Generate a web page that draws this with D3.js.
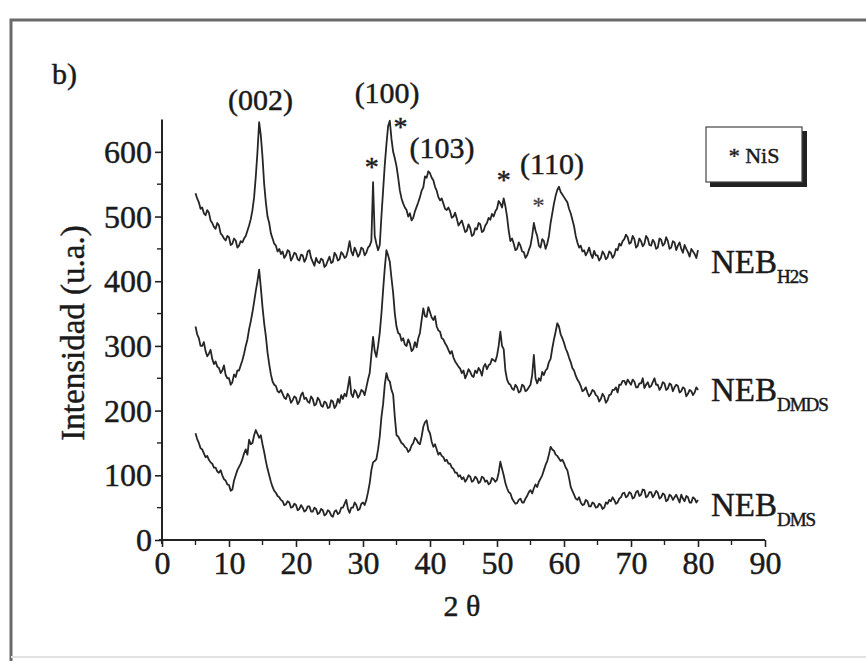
<!DOCTYPE html>
<html>
<head>
<meta charset="utf-8">
<script src="https://cdn.jsdelivr.net/npm/d3@7"></script>
<style>
  html, body { margin: 0; padding: 0; background: #fff; }
  svg { display: block; }
  text { font-family: "Liberation Serif", "DejaVu Serif", serif; fill: #1a1a1a; stroke: #1a1a1a; stroke-width: 0.45px; }
</style>
</head>
<body>
<svg id="chart" width="866" height="661"></svg>
<script>
// ---- data ----
const thetaStart = 5;      // first 2θ sample
const thetaStep = 0.25;    // sampling interval of the read-off values

const seriesSubs = ["H2S", "DMDS", "DMS"];

const valuesH2S = [
  536, 528, 522, 512, 514, 505, 502, 510, 506, 494, 490, 484, 481, 490, 486, 474, 471, 466, 463, 470,
  468, 456, 458, 466, 463, 452, 455, 462, 460, 466, 470, 478, 486, 496, 510, 530, 562, 600, 646, 625,
  592, 550, 522, 500, 490, 474, 466, 458, 455, 446, 450, 442, 446, 436, 440, 448, 446, 432, 437, 444,
  442, 434, 432, 441, 440, 430, 435, 446, 448, 436, 430, 424, 436, 430, 428, 435, 433, 422, 425, 432,
  438, 428, 430, 444, 440, 432, 434, 445, 442, 436, 438, 448, 462, 446, 440, 452, 446, 438, 442, 452,
  450, 440, 444, 452, 455, 462, 553, 470, 458, 448, 456, 500, 540, 580, 612, 640, 648, 620, 600, 590,
  578, 560, 540, 528, 520, 514, 510, 500, 505, 494, 498, 508, 515, 522, 530, 540, 545, 562, 560, 570,
  567, 560, 556, 546, 540, 530, 525, 528, 520, 512, 510, 514, 508, 498, 500, 506, 497, 486, 490, 494,
  485, 476, 478, 488, 482, 470, 472, 482, 480, 490, 488, 476, 478, 486, 490, 498, 495, 504, 500, 508,
  512, 524, 520, 514, 528, 516, 500, 478, 462, 466, 458, 448, 450, 460, 455, 446, 445, 436, 440, 448,
  455, 470, 490, 478, 470, 455, 452, 465, 462, 450, 458, 470, 490, 505, 520, 532, 541, 546, 538, 534,
  530, 526, 522, 512, 505, 495, 485, 470, 460, 452, 455, 446, 448, 440, 445, 452, 442, 436, 447, 440,
  440, 432, 436, 446, 442, 434, 437, 446, 444, 436, 440, 450, 448, 458, 455, 462, 465, 472, 468, 458,
  460, 470, 465, 452, 455, 466, 462, 454, 458, 470, 466, 456, 455, 464, 460, 450, 452, 466, 464, 455,
  458, 468, 462, 450, 452, 462, 460, 448, 455, 460, 450, 444, 456, 450, 445, 438, 450, 446, 442, 436,
  448
];
const valuesDMDS = [
  330, 318, 312, 300, 300, 306, 292, 284, 288, 294, 280, 272, 276, 268, 266, 258, 262, 270, 255, 250,
  250, 240, 244, 256, 252, 262, 262, 270, 278, 288, 300, 310, 326, 338, 352, 368, 385, 400, 418, 390,
  360, 335, 315, 290, 272, 256, 245, 240, 238, 230, 228, 232, 226, 220, 218, 226, 222, 212, 216, 222,
  220, 210, 214, 224, 228, 218, 220, 214, 212, 222, 218, 208, 210, 220, 216, 208, 206, 214, 212, 204,
  205, 216, 214, 204, 208, 218, 212, 224, 218, 226, 222, 236, 252, 226, 221, 232, 228, 220, 224, 232,
  230, 224, 236, 248, 258, 286, 314, 292, 283, 300, 320, 350, 386, 420, 448, 440, 430, 405, 382, 350,
  330, 320, 318, 308, 312, 302, 300, 310, 304, 292, 295, 306, 298, 312, 320, 340, 358, 346, 345, 360,
  352, 344, 340, 346, 330, 324, 322, 312, 310, 304, 300, 294, 288, 292, 282, 276, 272, 268, 265, 258,
  262, 250, 256, 264, 260, 254, 252, 262, 258, 266, 262, 254, 268, 272, 264, 270, 272, 280, 278, 276,
  285, 300, 322, 300, 295, 262, 248, 242, 240, 234, 232, 240, 236, 228, 230, 240, 238, 230, 232, 236,
  240, 255, 286, 250, 242, 250, 246, 260, 255, 262, 265, 275, 280, 296, 310, 322, 335, 330, 318, 312,
  305, 296, 290, 282, 275, 266, 262, 254, 248, 244, 238, 230, 232, 236, 228, 222, 226, 232, 230, 224,
  222, 214, 218, 226, 222, 212, 216, 224, 225, 232, 232, 236, 228, 240, 240, 246, 246, 240, 248, 244,
  240, 248, 245, 236, 236, 242, 242, 250, 235, 240, 244, 236, 238, 244, 250, 240, 240, 232, 236, 244,
  242, 232, 234, 242, 240, 230, 236, 240, 238, 228, 230, 236, 234, 222, 226, 232, 230, 224, 228, 236,
  232
];
const valuesDMS = [
  165, 156, 150, 142, 140, 134, 128, 130, 124, 120, 118, 112, 112, 106, 104, 108, 100, 94, 92, 86,
  85, 76, 78, 92, 100, 108, 113, 118, 125, 134, 140, 132, 155, 148, 150, 162, 170, 164, 158, 162,
  148, 136, 122, 110, 100, 90, 82, 76, 73, 68, 66, 62, 60, 54, 55, 60, 58, 50, 51, 56,
  54, 46, 48, 54, 50, 44, 46, 52, 52, 44, 44, 50, 48, 40, 42, 48, 46, 38, 40, 46,
  44, 38, 36, 44, 46, 40, 42, 50, 50, 56, 62, 48, 42, 50, 50, 58, 54, 46, 48, 56,
  58, 54, 62, 74, 88, 108, 120, 122, 125, 140, 160, 190, 210, 240, 258, 248, 245, 232, 225, 190,
  162, 160, 155, 150, 148, 144, 142, 136, 139, 146, 150, 158, 155, 150, 148, 160, 175, 182, 185, 170,
  165, 152, 144, 148, 140, 132, 135, 130, 128, 122, 124, 118, 118, 112, 110, 104, 104, 98, 100, 94,
  97, 90, 94, 100, 98, 90, 92, 98, 95, 88, 90, 98, 96, 90, 92, 86, 88, 96, 94, 90,
  93, 104, 121, 110, 100, 88, 80, 74, 72, 64, 60, 56, 57, 62, 64, 58, 58, 64, 68, 74,
  77, 72, 80, 86, 82, 90, 95, 100, 108, 116, 122, 132, 144, 140, 138, 132, 130, 126, 122, 124,
  119, 112, 108, 96, 82, 76, 70, 64, 62, 66, 58, 54, 55, 62, 60, 52, 52, 58, 56, 50,
  51, 56, 54, 48, 50, 58, 56, 62, 60, 66, 62, 56, 58, 64, 66, 72, 73, 66, 68, 74,
  72, 64, 66, 74, 76, 68, 70, 78, 77, 66, 68, 74, 74, 66, 70, 76, 73, 64, 66, 72,
  70, 60, 62, 70, 68, 62, 66, 70, 64, 58, 70, 64, 60, 68, 66, 58, 58, 66, 64, 58,
  62
];

const xTicks = [0, 10, 20, 30, 40, 50, 60, 70, 80, 90];
const yTicks = [0, 100, 200, 300, 400, 500, 600];

// peak annotations
const peakLabels = ["(002)", "(100)", "(103)", "(110)"];
const peakTheta = [14.7, 33.6, 41.8, 58.2];
const peakInt = [665, 675, 590, 565];
// NiS markers
const nisTheta = [31.3, 35.6, 51.0, 56.2];
const nisInt = [563, 625, 542, 505];

// ---- drawing ----
const svg = d3.select("#chart");
const x = d3.scaleLinear().domain([0, 90]).range([162, 765]);
const y = d3.scaleLinear().domain([0, 650]).range([540, 119.5]);

// outer frame
svg.append("path")
  .attr("d", "M11,661 V20 H866")
  .attr("fill", "none").attr("stroke", "#6a6a6a").attr("stroke-width", 3);
svg.append("line").attr("x1", 11).attr("x2", 866).attr("y1", 657).attr("y2", 657)
  .attr("stroke", "#e2e2e2").attr("stroke-width", 2);

// axes
const axisColor = "#222";
svg.append("line").attr("x1", x(0)).attr("x2", x(0)).attr("y1", y(650)).attr("y2", y(0) + 4)
  .attr("stroke", axisColor).attr("stroke-width", 2);
svg.append("line").attr("x1", x(0) - 3).attr("x2", x(90)).attr("y1", y(0)).attr("y2", y(0))
  .attr("stroke", axisColor).attr("stroke-width", 2);

const yAxis = d3.axisLeft(y).tickValues(yTicks).tickSize(7).tickPadding(3).tickFormat(d3.format("d"));
const gy = svg.append("g").attr("transform", `translate(${x(0)},0)`).call(yAxis);
gy.select(".domain").remove();
gy.selectAll(".tick line").attr("stroke", axisColor).attr("stroke-width", 1.6);
gy.selectAll(".tick text").style("font-size", "32px").attr("dy", "0.33em").attr("fill", "#1a1a1a");

const yMinor = d3.range(50, 650, 100);
svg.append("g").selectAll("line").data(yMinor).join("line")
  .attr("x1", x(0) - 5).attr("x2", x(0)).attr("y1", d => y(d)).attr("y2", d => y(d))
  .attr("stroke", axisColor).attr("stroke-width", 1.4);

const xAxis = d3.axisBottom(x).tickValues(xTicks).tickSize(7).tickPadding(4).tickFormat(d3.format("d"));
const gx = svg.append("g").attr("transform", `translate(0,${y(0)})`).call(xAxis);
gx.select(".domain").remove();
gx.selectAll(".tick line").attr("stroke", axisColor).attr("stroke-width", 1.6);
gx.selectAll(".tick text").style("font-size", "32px").attr("fill", "#1a1a1a");

const xMinor = d3.range(5, 90, 10);
svg.append("g").selectAll("line").data(xMinor).join("line")
  .attr("x1", d => x(d)).attr("x2", d => x(d)).attr("y1", y(0)).attr("y2", y(0) + 5)
  .attr("stroke", axisColor).attr("stroke-width", 1.4);

// axis titles
svg.append("text").attr("transform", `translate(84,333) rotate(-90)`)
  .attr("text-anchor", "middle").style("font-size", "33px").text("Intensidad (u.a.)");
svg.append("text").attr("x", 462).attr("y", 616).attr("text-anchor", "middle")
  .style("font-size", "30px").text("2 θ");
svg.append("text").attr("x", 52).attr("y", 84).style("font-size", "30px").text("b)");

// series
const allSeries = [valuesH2S, valuesDMDS, valuesDMS];
const line = d3.line().x((d, i) => x(thetaStart + i * thetaStep)).y(d => y(d));
svg.append("g").selectAll("path").data(allSeries).join("path")
  .attr("d", d => line(d))
  .attr("fill", "none").attr("stroke", "#262626").attr("stroke-width", 1.8)
  .attr("stroke-linejoin", "round");

// series labels (placed at the level of each curve's right end)
const labelY = [413, 215, 37];
seriesSubs.forEach((s, i) => {
  const t = svg.append("text").attr("x", 711).attr("y", y(labelY[i])).style("font-size", "33px");
  t.append("tspan").text("NEB");
  t.append("tspan").attr("dy", 10).style("font-size", "19px").attr("letter-spacing", "-1").text(s);
});

// peak labels
peakLabels.forEach((p, i) => {
  svg.append("text").attr("x", x(peakTheta[i])).attr("y", y(peakInt[i]))
    .attr("text-anchor", "middle").style("font-size", "30px").text(p);
});
nisTheta.forEach((t, i) => {
  svg.append("text").attr("x", x(t)).attr("y", y(nisInt[i]))
    .attr("text-anchor", "middle").style("font-size", i === 3 ? "24px" : "28px")
    .attr("fill", i === 3 ? "#777" : "#1a1a1a").style("stroke", i === 3 ? "#777" : "#1a1a1a")
    .text("*");
});

// legend box
const lg = svg.append("g").attr("transform", "translate(706,127)");
lg.append("rect").attr("x", 4).attr("y", 4).attr("width", 97).attr("height", 56).attr("fill", "#222");
lg.append("rect").attr("x", 0).attr("y", 0).attr("width", 96).attr("height", 55)
  .attr("fill", "#fff").attr("stroke", "#444").attr("stroke-width", 1.2);
lg.append("text").attr("x", 48).attr("y", 36).attr("text-anchor", "middle")
  .style("font-size", "22px").text("* NiS");
</script>
</body>
</html>
